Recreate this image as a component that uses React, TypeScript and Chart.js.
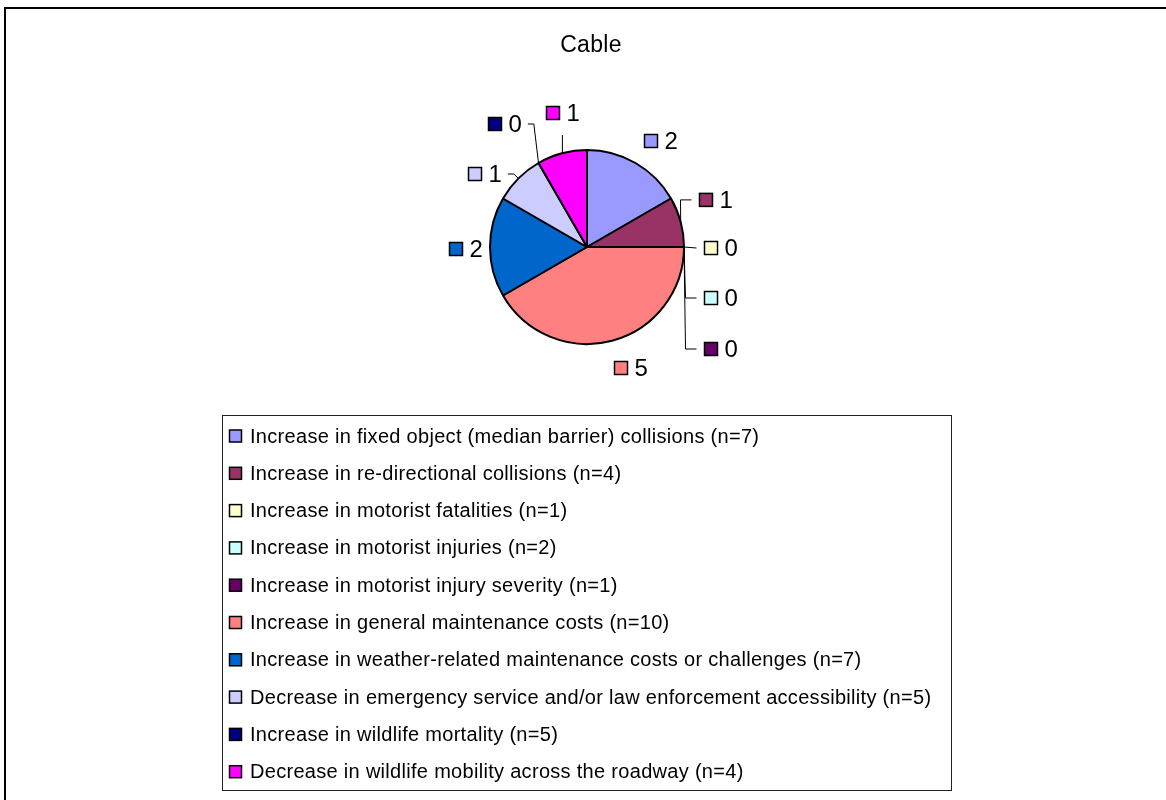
import React, { useEffect, useRef } from "react";
import { Chart, registerables } from "chart.js";

Chart.register(...registerables);

const TITLE = "Cable";
const categories = [
  "Increase in fixed object (median barrier) collisions (n=7)",
  "Increase in re-directional collisions (n=4)",
  "Increase in motorist fatalities (n=1)",
  "Increase in motorist injuries (n=2)",
  "Increase in motorist injury severity (n=1)",
  "Increase in general maintenance costs (n=10)",
  "Increase in weather-related maintenance costs or challenges (n=7)",
  "Decrease in emergency service and/or law enforcement accessibility (n=5)",
  "Increase in wildlife mortality (n=5)",
  "Decrease in wildlife mobility across the roadway (n=4)",
];
const values = [2, 1, 0, 0, 0, 5, 2, 1, 0, 1];
const colors = [
  "#9999FF",
  "#993366",
  "#FFFFCC",
  "#CCFFFF",
  "#660066",
  "#FF8080",
  "#0066CC",
  "#CCCCFF",
  "#000080",
  "#FF00FF",
];

// label placement (style): offset of the label key square from the slice's outer mid point
const labelOffsets: [number, number][] = [
  [15.5, -22],
  [25.3, -22],
  [27, 1],
  [27, 51],
  [27, 102],
  [8.9, 27.3],
  [-34, 2],
  [-43.4, -4.4],
  [-43.5, -39],
  [-8.9, -40.3],
];
// leader style: "" none, "r" right-side elbow, "l" left-side elbow, "v" vertical
const leaderKinds = ["", "r", "r", "r", "r", "", "", "l", "l", "v"];

const FONT = "'Liberation Sans', Arial, Helvetica, sans-serif";

const customPlugin = {
  id: "customDraw",
  afterDatasetsDraw(chart: any) {
    const ctx = chart.ctx as CanvasRenderingContext2D;
    const meta = chart.getDatasetMeta(0);
    ctx.save();
    // Title
    ctx.fillStyle = "#000";
    ctx.font = `23px ${FONT}`;
    (ctx as any).letterSpacing = "0.3px";
    ctx.textAlign = "center";
    ctx.textBaseline = "middle";
    ctx.fillText(TITLE, 591, 46);

    // Data labels
    const sq = 13;
    meta.data.forEach((arc: any, i: number) => {
      const { x, y, startAngle, endAngle, outerRadius } = arc.getProps(
        ["x", "y", "startAngle", "endAngle", "outerRadius"],
        true
      );
      const m = (startAngle + endAngle) / 2;
      const px = x + outerRadius * Math.cos(m);
      const py = y + outerRadius * Math.sin(m);
      const [dx, dy] = labelOffsets[i];
      const cx = px + dx;
      const cy = py + dy;
      const txt = String(values[i]);
      ctx.font = `24px ${FONT}`;
      (ctx as any).letterSpacing = "0px";
      const tw = ctx.measureText(txt).width;
      // leader line
      const kind = leaderKinds[i];
      if (kind) {
        ctx.beginPath();
        ctx.strokeStyle = "#000";
        ctx.lineWidth = 1;
        if (kind === "r") {
          const ex = cx - sq / 2 - 8;
          const elx = ex - 11;
          ctx.moveTo(px, py);
          ctx.lineTo(Math.abs(cy - py) < 3 ? ex : elx, cy);
          ctx.lineTo(ex, cy);
        } else if (kind === "l") {
          const ex = cx + sq / 2 + 7 + tw + 6;
          const elx = ex + 6;
          ctx.moveTo(px, py);
          ctx.lineTo(elx, cy);
          ctx.lineTo(ex, cy);
        } else if (kind === "v") {
          ctx.moveTo(px + 0.5, py);
          ctx.lineTo(px + 0.5, cy + 22);
        }
        ctx.stroke();
      }
      // key square
      ctx.fillStyle = colors[i];
      ctx.fillRect(cx - sq / 2, cy - sq / 2, sq, sq);
      ctx.strokeStyle = "#000";
      ctx.lineWidth = 1.5;
      ctx.strokeRect(cx - sq / 2, cy - sq / 2, sq, sq);
      // value
      ctx.fillStyle = "#000";
      ctx.textAlign = "left";
      ctx.textBaseline = "middle";
      ctx.fillText(txt, cx + sq / 2 + 7, cy + 1);
    });

    // Legend box
    const bx = 222.5,
      by = 415.5,
      bw = 729,
      bh = 375;
    ctx.strokeStyle = "#222";
    ctx.lineWidth = 1;
    ctx.strokeRect(bx, by, bw, bh);
    const rowStart = 436;
    const rowStep = 37.3;
    categories.forEach((label, i) => {
      const ry = rowStart + i * rowStep;
      const s = 12;
      ctx.fillStyle = colors[i];
      ctx.fillRect(229.5, ry - s / 2, s, s);
      ctx.strokeStyle = "#000";
      ctx.lineWidth = 1.5;
      ctx.strokeRect(229.5, ry - s / 2, s, s);
      ctx.fillStyle = "#000";
      ctx.font = `20px ${FONT}`;
      (ctx as any).letterSpacing = "0.3px";
      ctx.textAlign = "left";
      ctx.textBaseline = "middle";
      ctx.fillText(label, 250, ry + 1);
    });
    ctx.restore();
  },
};

export default function App() {
  const canvasRef = useRef<HTMLCanvasElement | null>(null);
  useEffect(() => {
    if (!canvasRef.current) return;
    const W = 1166,
      H = 800;
    const cxp = 587,
      cyp = 247;
    const chart = new Chart(canvasRef.current, {
      type: "pie",
      data: {
        labels: categories,
        datasets: [
          {
            data: values,
            backgroundColor: colors,
            borderColor: "#000",
            borderWidth: 2,
          },
        ],
      },
      options: {
        responsive: false,
        animation: false,
        devicePixelRatio: 1,
        radius: 97,
        layout: {
          padding: {
            left: cxp - 200,
            right: W - cxp - 200,
            top: cyp - 150,
            bottom: H - cyp - 150,
          },
        },
        plugins: {
          legend: { display: false },
          tooltip: { enabled: false },
          title: { display: false },
        },
      } as any,
      plugins: [customPlugin],
    });
    return () => chart.destroy();
  }, []);

  return (
    <div
      style={{
        position: "fixed",
        left: 0,
        top: 0,
        width: 1166,
        height: 800,
        overflow: "hidden",
        background: "#fff",
      }}
    >
      <div
        style={{
          position: "absolute",
          left: 4,
          top: 7,
          width: 1300,
          height: 1000,
          borderLeft: "2px solid #000",
          borderTop: "2px solid #000",
        }}
      />
      <canvas
        ref={canvasRef}
        width={1166}
        height={800}
        style={{ position: "absolute", left: 0, top: 0 }}
      />
    </div>
  );
}
